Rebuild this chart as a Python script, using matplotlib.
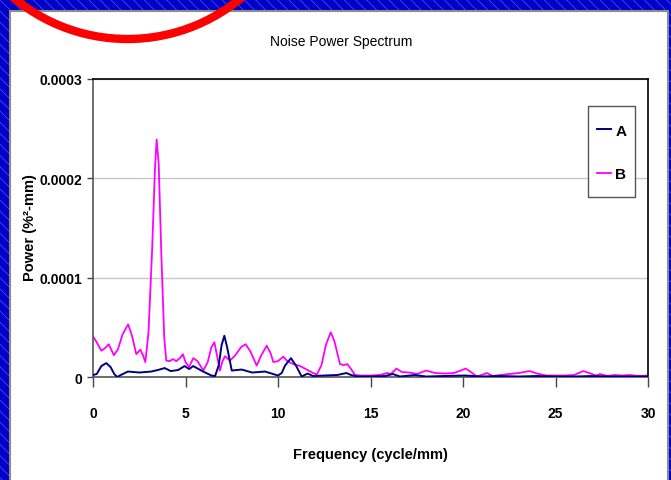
import matplotlib
matplotlib.use("Agg")
import matplotlib.pyplot as plt
from matplotlib.patches import Rectangle, Ellipse
import numpy as np

plt.rcParams['font.family'] = ['Liberation Sans', 'DejaVu Sans']

# ---- data (power in units of 1e-5 %^2-mm) ----
freq_A = [0, 0.2, 0.45, 0.72, 0.95, 1.15, 1.31, 1.5, 1.89, 2.5, 3.15, 3.5, 3.87, 4.2, 4.6,
          4.95, 5.2, 5.42, 5.9, 6.4, 6.6, 6.8, 6.95, 7.1, 7.25, 7.5, 8.04, 8.6, 9.3, 10.0,
          10.2, 10.38, 10.7, 10.97, 11.28, 11.6, 11.9, 12.5, 13.2, 13.7, 13.95, 14.3, 15,
          15.8, 16.2, 16.6, 17.4, 18, 19, 20.1, 21, 22, 23, 24, 25, 26, 27, 28, 29, 30]
power_A = [0.2, 0.3, 1.1, 1.4, 1.0, 0.3, 0.0, 0.2, 0.55, 0.45, 0.55, 0.7, 0.9, 0.6, 0.7,
           1.1, 0.8, 1.1, 0.6, 0.15, 0.1, 1.2, 3.2, 4.15, 3.0, 0.65, 0.75, 0.45, 0.55, 0.15,
           0.4, 1.15, 1.9, 1.15, 0.05, 0.35, 0.1, 0.15, 0.2, 0.4, 0.2, 0.05, 0.05,
           0.1, 0.3, 0.05, 0.2, 0.05, 0.1, 0.15, 0.05, 0.1, 0.05, 0.1, 0.05, 0.05, 0.1, 0.05, 0.05, 0.05]

freq_B = [0, 0.2, 0.45, 0.65, 0.85, 1.0, 1.13, 1.35, 1.6, 1.9, 2.1, 2.34, 2.56, 2.7, 2.83,
          3.0, 3.2, 3.35, 3.44, 3.55, 3.7, 3.85, 3.96, 4.15, 4.32, 4.5, 4.7, 4.86, 5.0, 5.19,
          5.42, 5.65, 5.96, 6.2, 6.4, 6.56, 6.7, 6.86, 7.0, 7.14, 7.4, 7.7, 8.0, 8.25, 8.5,
          8.85, 9.1, 9.39, 9.6, 9.75, 10.0, 10.29, 10.5, 10.83, 11.2, 11.5, 11.9, 12.1, 12.35,
          12.6, 12.85, 13.05, 13.35, 13.55, 13.75, 13.95, 14.16, 14.5, 15.0, 15.5, 15.9, 16.1,
          16.4, 16.7, 17.1, 17.5, 18.0, 18.5, 19.0, 19.5, 19.8, 20.15, 20.5, 20.75, 21.0, 21.3,
          21.6, 22.0, 22.5, 23.0, 23.6, 24.0, 24.5, 25.0, 25.5, 26.0, 26.5, 26.9, 27.2, 27.4,
          27.8, 28.2, 28.6, 29.0, 29.5, 30]
power_B = [4.1, 3.5, 2.65, 2.9, 3.3, 2.7, 2.2, 2.8, 4.3, 5.3, 4.2, 2.3, 2.75, 2.2, 1.5,
           4.5, 13, 21, 23.9, 21.5, 12, 4, 1.65, 1.6, 1.8, 1.6, 1.9, 2.3, 1.5, 1.0,
           1.9, 1.6, 0.65, 1.5, 3.0, 3.5, 2.2, 0.65, 1.6, 2.1, 1.65, 2.2, 3.0, 3.3, 2.6,
           1.15, 2.2, 3.15, 2.4, 1.5, 1.6, 2.05, 1.6, 1.3, 1.1, 0.8, 0.4, 0.25, 1.2,
           3.3, 4.5, 3.6, 1.3, 1.2, 1.3, 0.8, 0.2, 0.15, 0.15, 0.2, 0.4, 0.3,
           0.85, 0.5, 0.45, 0.3, 0.65, 0.4, 0.35, 0.4, 0.6, 0.85, 0.4, 0.05, 0.2, 0.4,
           0.1, 0.2, 0.3, 0.4, 0.6, 0.35, 0.15, 0.15, 0.15, 0.2, 0.6, 0.35, 0.15, 0.3,
           0.1, 0.2, 0.15, 0.2, 0.1, 0.15]

series_names = ["A", "B"]
x_ticks = [0, 5, 10, 15, 20, 25, 30]
y_ticks = [0, 0.0001, 0.0002, 0.0003]
y_tick_labels = ["0", "0.0001", "0.0002", "0.0003"]

W, H = 671, 481
fig = plt.figure(figsize=(W / 100, H / 100), dpi=100)
fig.patch.set_facecolor('#0000C8')

# hatched blue slide background
plt.rcParams['hatch.linewidth'] = 0.6
fig.patches.append(Rectangle((0, 0), 1, 1, transform=fig.transFigure, facecolor='#0000C8',
                             edgecolor='#4a4ae8', hatch='\\\\\\', linewidth=0, zorder=0))
# white chart panel
fig.patches.append(Rectangle((10 / W, -0.02), (668 - 10) / W, 1.02 - 12 / H,
                             transform=fig.transFigure, facecolor='white',
                             edgecolor='#8c8c8c', linewidth=1.5, zorder=1))

AX_L, AX_R, AX_T, AX_B = 93, 648, 80, 378
AW, AH = AX_R - AX_L, AX_B - AX_T
ax = fig.add_axes([AX_L / W, 1 - AX_B / H, AW / W, AH / H])
ax.set_zorder(2)

fa = np.array(freq_A); pa = np.array(power_A) * 1e-5
fb = np.array(freq_B); pb = np.array(power_B) * 1e-5
ax.plot(fa, pa, color='#000080', lw=1.4, label=series_names[0], zorder=3,
        solid_joinstyle='round')
ax.plot(fb, pb, color='#FF00FF', lw=1.3, label=series_names[1], zorder=2,
        solid_joinstyle='round')

ax.set_xlim(0, 30)
ax.set_ylim(0, 0.0003)
ax.set_xticks(x_ticks)
ax.set_xticklabels([str(t) for t in x_ticks], fontsize=10, fontweight='bold')
ax.set_yticks(y_ticks)
ax.set_yticklabels(y_tick_labels, fontsize=10, fontweight='bold')
ax.tick_params(axis='x', direction='out', length=7, width=1, pad=14, color='#444444')
ax.tick_params(axis='y', direction='out', length=4, width=1, pad=4, color='#444444')
ax.grid(axis='y', color='#c8c8c8', lw=1)
ax.set_axisbelow(True)
for s in ax.spines.values():
    s.set_color('black'); s.set_linewidth(1.2)
ax.spines['left'].set_color('#555555')
ax.spines['bottom'].set_color('#555555')

ax.set_xlabel('Frequency (cycle/mm)', fontsize=10.5, fontweight='bold')
ax.set_ylabel('Power (%²-mm)', fontsize=10.5, fontweight='bold')
ax.xaxis.set_label_coords((370 - AX_L) / AW, -(455 - AX_B) / AH)
ax.yaxis.set_label_coords((30 - AX_L) / AW, (AX_B - 228) / AH)
ax.xaxis.label.set_va('center')
ax.yaxis.label.set_va('center')
fig.text(341 / W, 1 - 42 / H, 'Noise Power Spectrum', ha='center', va='center',
         fontsize=10, zorder=5)

# legend box (frame drawn separately so its size matches the reference)
bx0, bx1, by0, by1 = 588, 635, 107, 198
ax.add_patch(Rectangle(((bx0 - AX_L) / AW, (AX_B - by1) / AH), (bx1 - bx0) / AW, (by1 - by0) / AH,
                       transform=ax.transAxes, facecolor='white', edgecolor='#555555',
                       linewidth=1.0, zorder=4, clip_on=False))
leg = ax.legend(loc='center', bbox_to_anchor=(((bx0 + bx1) / 2 - AX_L) / AW,
                                              (AX_B - (131 + 176) / 2) / AH),
                frameon=False, handlelength=0.9, handletextpad=0.3,
                labelspacing=1.95, borderpad=0, borderaxespad=0,
                prop={'weight': 'bold', 'size': 11})
leg.set_zorder(5)

# red annotation circle in the corner
r = 178
fig.patches.append(Ellipse((127.5 / W, 1 + 138 / H), 2 * r / W, 2 * r / H, transform=fig.transFigure,
                           facecolor='none', edgecolor='#FF0000', linewidth=6, zorder=10))

fig.savefig('out.png', dpi=100)
